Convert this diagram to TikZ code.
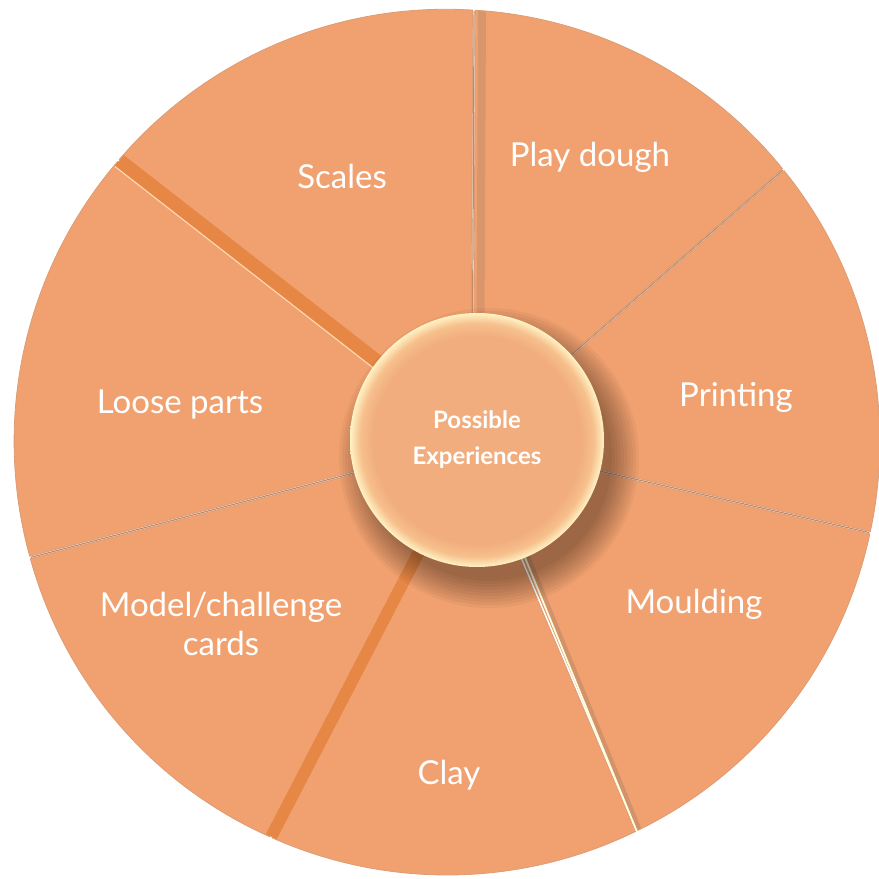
\documentclass[tikz,border=0pt]{standalone}
\usepackage{fontspec}
\setmainfont{Lato}
\usetikzlibrary{calc}

\definecolor{wedgefill}{HTML}{F1A16F}
\definecolor{wedgeline}{HTML}{DC9C76}
\definecolor{groovefill}{HTML}{E68746}
\definecolor{seamline}{HTML}{C08A68}
\definecolor{hubcore}{HTML}{F2AD7E}
\definecolor{hubring}{HTML}{F6C08C}
\definecolor{hubrim}{HTML}{FFF2C4}
\pgfdeclareradialshading{hubshade}{\pgfpoint{0bp}{0bp}}{color(0bp)=(hubcore); color(20.5bp)=(hubcore); color(23bp)=(hubring); color(25bp)=(hubrim); color(50bp)=(hubrim)}

\tikzset{
    wedge/.style={fill=wedgefill, draw=wedgeline, line width=0.8pt},
    seam/.style={draw=seamline, line width=1.2pt},
    groove/.style={draw=groovefill, line cap=butt},
    ridge/.style={draw=white!85!yellow, line width=1.8pt},
    label/.style={text=white, font=\fontsize{33}{39}\selectfont, align=center},
    hub/.style={circle, shading=hubshade, minimum size=254pt, inner sep=0pt,
        text=white, align=center, font=\bfseries\fontsize{24}{36}\selectfont}
}

\begin{document}
\begin{tikzpicture}[x=1pt, y=1pt]
    \useasboundingbox (0,0) rectangle (879,879);
    \coordinate (O) at (447,437);
    \coordinate (P) at (472,437);
    \coordinate (H) at (477,439);

    % --- Wedges ---
    \foreach \a/\b in {139.4/86.4, 86.4/39, 39/-12.1, -12.1/-64, -64/-114, -114/-164.5, -164.5/-220.6} {
        \pgfmathsetmacro\midang{(\a+\b)/2}
        \draw[wedge] ($(P)+(\midang:3)$) -- ($(O)+(\a:430)+(\midang:3)$)
            arc[start angle=\a, end angle=\b, radius=430] -- cycle;
    }

    % --- Seams and grooves between wedges ---
    \begin{scope}
        \clip (O) circle (432);
        % vertical seam with shade on the right
        \draw[draw=seamline, opacity=0.45, line width=8pt] ($(P)+(8,0)$) -- ($(O)+(86.4:430)+(8,4)$);
        \draw[seam] (P) -- ($(O)+(86.4:432)$);
        \foreach \a in {39, -12.1, -164.5}
            \draw[seam] (P) -- ($(O)+(\a:432)$);
        % light ridge with a shadow
        \draw[draw=seamline, opacity=0.6, line width=5pt] ($(H)+(3,0)$) -- ($(O)+(-64:432)+(3,0)$);
        \draw[ridge] (H) -- ($(O)+(-64:432)$);
        % darker channels
        \draw[groove, line width=15pt] (H) -- ($(O)+(139.4:432)$);
        \draw[draw=white!70!orange, line width=1.2pt] ($(H)+(232:7)$) -- ($(O)+(139.4:432)+(232:7)$);
        \draw[groove, line width=12pt] (H) -- ($(O)+(-114:432)$);
    \end{scope}

    % --- Hub shadow ---
    \foreach \i in {1,...,10}
        \fill[black, opacity=0.04] ($(H)+(12,-18)$) circle ({120+3*\i});

    % --- Hub ---
    \node[hub] (hub) at (H) {Possible\\Experiences};

    % --- Labels ---
    \node[label] (scales) at (342,703) {Scales};
    \node[label] (playdough) at (590,722) {Play dough};
    \node[label] (printing) at (736,482) {Printing};
    \node[label] (moulding) at (694,275) {Moulding};
    \node[label] (clay) at (449,104) {Clay};
    \node[label] (model) at (221,255) {Model/challenge\\cards};
    \node[label] (looseparts) at (180,474) {Loose parts};
\end{tikzpicture}
\end{document}
